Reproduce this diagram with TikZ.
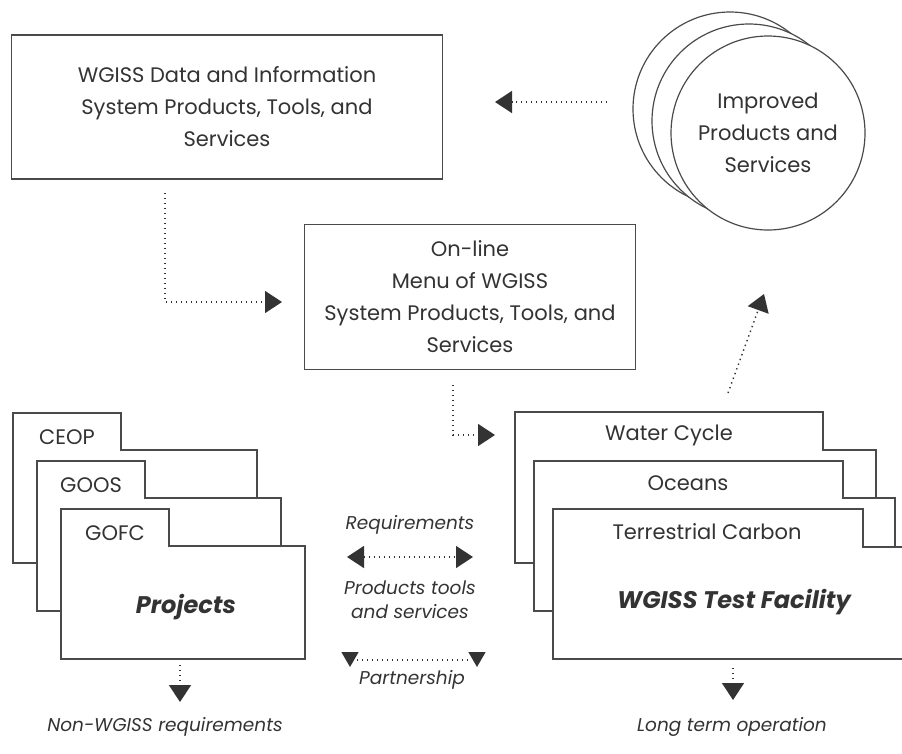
\documentclass[tikz,border=0pt]{standalone}
\usepackage{fontspec}
\setmainfont{Poppins}
\usetikzlibrary{arrows.meta,shapes.geometric}
\definecolor{ink}{HTML}{333333}
\definecolor{edge}{HTML}{4A4A4A}

\begin{document}
\begin{tikzpicture}[x=1pt,y=-1pt,
  every node/.style={text=ink,align=center,font=\fontsize{21}{32}\selectfont},
  box/.style={draw=edge,line width=1.3pt,fill=white,inner sep=0pt},
  disc/.style={shape=circle,draw=edge,line width=1.2pt,fill=white,minimum size=194,inner sep=0pt},
  folder/.style={draw=edge,line width=1.3pt,fill=white},
  note/.style={font=\fontsize{18.5}{24}\selectfont\itshape},
  bold/.style={font=\fontsize{24}{30}\selectfont\bfseries\itshape},
  flow/.style={draw=ink,line width=1.4pt,dash pattern=on 1.4pt off 3.6pt,-{Triangle[length=17pt,width=22pt]}},
  dflow/.style={flow,{Triangle[length=17pt,width=22pt]}-{Triangle[length=17pt,width=22pt]}},
  tri/.style={regular polygon,regular polygon sides=3,shape border rotate=180,fill=ink,minimum size=20,inner sep=0pt}]
\useasboundingbox (0,0) rectangle (902,753);
\clip (0,0) rectangle (902,753);

\path (227,107) node (wgissdata) [box,minimum width=431,minimum height=144] {WGISS Data and Information\\System Products, Tools, and\\Services};
\path (470,297) node (menu) [box,minimum width=331,minimum height=145] {On-line\\Menu of WGISS\\System Products, Tools, and\\Services};

\path (730,109) node (imp3) [disc] {};
\path (749,121) node (imp2) [disc] {};
\path (768,133) node (imp1) [disc] {Improved\\Products and\\Services};

% projects
\filldraw[folder] (13,413) -- (121,413) -- (121,450) -- (257,450) -- (257,563) -- (13,563) -- cycle;
\path (67,437) node (ceop) {CEOP};
\filldraw[folder] (37,461) -- (145,461) -- (145,498) -- (281,498) -- (281,611) -- (37,611) -- cycle;
\path (91,485) node (goos) {GOOS};
\filldraw[folder] (61,509) -- (169,509) -- (169,546) -- (305,546) -- (305,659) -- (61,659) -- cycle;
\path (115,533) node (gofc) {GOFC};
\path (186,607) node (proj) [bold] {Projects};

% test facility
\filldraw[folder] (515,412) -- (823,412) -- (823,450) -- (876,450) -- (876,563) -- (515,563) -- cycle;
\path (669,435) node (water) {Water Cycle};
\filldraw[folder] (534,461) -- (843,461) -- (843,498) -- (895,498) -- (895,611) -- (534,611) -- cycle;
\path (688,483) node (oceans) {Oceans};
\filldraw[folder] (553,509) -- (863,509) -- (863,547) -- (914,547) -- (914,659) -- (553,659) -- cycle;
\path (707,532) node (terr) {Terrestrial Carbon};
\path (734,602) node (wtf) [bold] {WGISS Test Facility};

\path (410,525) node (req) [note] {Requirements};
\path (410,600) node (pts) [note] {Products tools\\and services};
\path (412,680) node (part) [note] {Partnership};
\path (165,727) node (nonw) [note] {Non-WGISS requirements};
\path (732,727) node (lto) [note] {Long term operation};

\path (350,657) node (ptl) [tri] {};
\path (477,657) node (ptr) [tri] {};

\coordinate (a1s) at (607,102);
\coordinate (a1e) at (495,102);
\coordinate (a2s) at (165,193);
\coordinate (a2e) at (282,302);
\coordinate (a3s) at (453,385);
\coordinate (a3e) at (495,435);
\coordinate (a4s) at (728,393);
\coordinate (a4e) at (764,294);
\coordinate (a5s) at (180,665);
\coordinate (a5e) at (180,702);
\coordinate (a6s) at (733,668);
\coordinate (a6e) at (733,700);
\coordinate (rl) at (347,557);
\coordinate (rr) at (473,557);

\draw [flow] (a1s) -- (a1e);
\draw [flow] (a2s) |- (a2e);
\draw [flow] (a3s) |- (a3e);
\draw [flow] (a4s) -- (a4e);
\draw [flow] (a5s) -- (a5e);
\draw [flow] (a6s) -- (a6e);
\draw [dflow] (rl) -- (rr);
\draw [flow,-,shorten <=7pt,shorten >=7pt] ([yshift=-3pt]ptl.center) -- ([yshift=-3pt]ptr.center);
\end{tikzpicture}
\end{document}
